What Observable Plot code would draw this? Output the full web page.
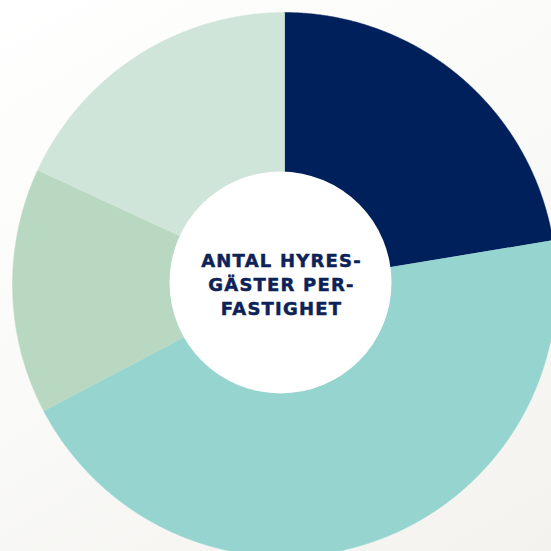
<!DOCTYPE html>
<html>
<head>
<meta charset="utf-8">
<script src="https://cdn.jsdelivr.net/npm/d3@7"></script>
<script src="https://cdn.jsdelivr.net/npm/@observablehq/plot@0.6"></script>
<style>
  html, body { margin: 0; padding: 0; overflow: hidden; width: 551px; height: 551px; }
  body { background: linear-gradient(150deg, #ffffff 0%, #fafaf8 45%, #f3f2ee 100%); }
  #chart svg text { letter-spacing: 1.2px; }
</style>
</head>
<body>
<div id="chart"></div>
<script>
// ---- data ----
const categories = ["Grupp 1", "Grupp 2", "Grupp 3", "Grupp 4"];
const shares = [22.4, 44.9, 14.6, 18.1];
const colors = ["#00205b", "#96d4d0", "#b8d8c2", "#d0e5d9"];
const centerLines = ["ANTAL HYRES-", "GÄSTER PER-", "FASTIGHET"];

// ---- layout ----
const W = 551, H = 551;
const cx = 284, cy = 284, R = 272;     // outer ring in pixels
const ringInner = 0.3;                 // ring inner radius (covered by hole)
const holeR = 111;                     // white hole radius (px)
const holeDx = -4, holeDy = -2;        // hole offset (px)

const pie = d3.pie().sort(null).value(d => d.value).startAngle(0).endAngle(2 * Math.PI);
const arcs = pie(categories.map((c, i) => ({category: c, value: shares[i]})));

// polygon outline of each ring segment, in unit coordinates (y up)
const step = Math.PI / 720;
const pts = [];
for (const a of arcs) {
  const n = Math.max(2, Math.ceil((a.endAngle - a.startAngle) / step));
  for (let k = 0; k <= n; k++) {
    const t = a.startAngle + (a.endAngle - a.startAngle) * k / n;
    pts.push({category: a.data.category, x: Math.sin(t), y: Math.cos(t)});
  }
  for (let k = n; k >= 0; k--) {
    const t = a.startAngle + (a.endAngle - a.startAngle) * k / n;
    pts.push({category: a.data.category, x: ringInner * Math.sin(t), y: ringInner * Math.cos(t)});
  }
}

const hole = [{x: holeDx / R, y: -holeDy / R}];

const plot = Plot.plot({
  width: W, height: H,
  margin: 0,
  style: {background: "transparent", overflow: "hidden"},
  x: {domain: [-cx / R, (W - cx) / R], axis: null},
  y: {domain: [(cy - H) / R, cy / R], axis: null},
  color: {domain: categories, range: colors},
  marks: [
    Plot.line(pts, {x: "x", y: "y", z: "category", fill: "category", stroke: "category", strokeWidth: 0.5, curve: "linear"}),
    Plot.dot(hole, {x: "x", y: "y", r: holeR, fill: "white", stroke: "none"}),
    Plot.text(hole, {x: "x", y: "y", text: () => centerLines.join("\n"), lineHeight: 1.33,
      fontSize: 18, fontWeight: "bold", fontFamily: "DejaVu Sans", fill: "#0d2257",
      stroke: "#0d2257", strokeWidth: 0.5, dx: 1, dy: 1})
  ]
});
document.getElementById("chart").appendChild(plot);
</script>
</body>
</html>
